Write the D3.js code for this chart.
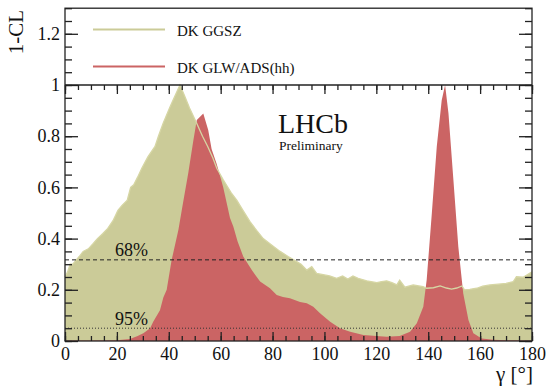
<!DOCTYPE html>
<html>
<head>
<meta charset="utf-8">
<script src="https://cdn.jsdelivr.net/npm/d3@7"></script>
<style>
body { margin: 0; background: #fff; }
</style>
</head>
<body>
<div id="chart"></div>
<script>
// gamma [deg] and 1-CL for each combination
var ggszGamma = [0, 1, 2, 3, 4.6, 5.5, 7, 9, 10.8, 12.5, 14.6, 16.5, 18.5, 20.4, 22, 24, 25.3, 26.5, 28, 29.6,
    32, 34.7, 36, 37.8, 40.5, 42.5, 44.3, 46, 48, 50.8, 53, 55, 57, 58.5, 61, 64, 66.2, 68, 71.3, 74,
    76.4, 79, 82.9, 86, 89.3, 91, 93.2, 95.1, 97, 100, 102, 104.7, 107, 109, 111, 113, 116.3, 120.2, 122, 124,
    126, 127.9, 129, 131, 134.2, 138, 139.4, 142, 144.6, 147, 149, 151, 153, 154, 156, 158.7, 161, 163.8, 167, 170,
    172.8, 174, 176.6, 178, 180];
var ggszCL = [0.25, 0.27, 0.30, 0.30, 0.32, 0.33, 0.35, 0.36, 0.38, 0.40, 0.42, 0.44, 0.47, 0.51, 0.53, 0.55, 0.60, 0.61, 0.64, 0.675,
    0.72, 0.76, 0.80, 0.85, 0.915, 0.96, 1.0, 0.96, 0.91, 0.85, 0.80, 0.76, 0.715, 0.675, 0.63, 0.58, 0.55, 0.52, 0.466, 0.43,
    0.40, 0.38, 0.35, 0.33, 0.31, 0.30, 0.277, 0.29, 0.264, 0.258, 0.254, 0.245, 0.254, 0.242, 0.254, 0.245, 0.235, 0.228, 0.232, 0.235,
    0.228, 0.219, 0.238, 0.21, 0.219, 0.212, 0.206, 0.208, 0.215, 0.207, 0.203, 0.207, 0.215, 0.2, 0.202, 0.206, 0.214, 0.219, 0.222, 0.225,
    0.232, 0.251, 0.249, 0.258, 0.27];

var glwGamma = [0, 10, 20, 25, 28, 30.2, 32.8, 34, 36.6, 37.9, 39.2, 41.1, 43.7, 45.5, 47.5, 49.5, 50.8, 53.3, 55.2, 56.5,
    58.5, 61, 63.6, 64.9, 66.5, 68.7, 72, 75.2, 79, 81.6, 84, 86.7, 90.6, 93.2, 95.7, 98.3, 102.2, 106, 109.9, 115,
    120, 124, 129, 133, 135.6, 138.1, 139.4, 141.4, 143.3, 145.2, 146.5, 147.8, 149.7, 151.6, 153.5, 155.5, 157.4, 160.6, 165, 170, 180];
var glwCL = [0.002, 0.002, 0.003, 0.008, 0.02, 0.03, 0.05, 0.075, 0.12, 0.17, 0.20, 0.316, 0.434, 0.54, 0.655, 0.785, 0.863, 0.889, 0.824, 0.75,
    0.69, 0.60, 0.48, 0.446, 0.39, 0.33, 0.277, 0.232, 0.206, 0.18, 0.172, 0.167, 0.152, 0.147, 0.134, 0.108, 0.075, 0.05, 0.036, 0.023,
    0.02, 0.017, 0.02, 0.036, 0.069, 0.134, 0.238, 0.5, 0.76, 0.94, 1.0, 0.89, 0.63, 0.368, 0.186, 0.082, 0.03, 0.01, 0.005, 0.003, 0.002];

var legendLabels = ["DK GGSZ", "DK GLW/ADS(hh)"];
var clLevels = [0.317, 0.05];
var clLabels = ["68%", "95%"];
var xMajor = [0, 20, 40, 60, 80, 100, 120, 140, 160, 180];
var yMajor = [0, 0.2, 0.4, 0.6, 0.8, 1, 1.2];

var width = 548, height = 387;
var olive = "#cbcb98", red = "#cb6464";

var svg = d3.select("#chart").append("svg")
    .attr("width", width)
    .attr("height", height);

var x = d3.scaleLinear().domain([0, 180]).range([65, 532]);
var y = d3.scaleLinear().domain([0, 1.3]).range([341, 8.2]);

function pts(gs, cs) {
    return gs.map(function(g, i) { return [g, cs[i]]; });
}
var ggsz = pts(ggszGamma, ggszCL), glw = pts(glwGamma, glwCL);

var area = d3.area().x(function(d) { return x(d[0]); }).y0(y(0)).y1(function(d) { return y(d[1]); });
var line = d3.line().x(function(d) { return x(d[0]); }).y(function(d) { return y(d[1]); });

svg.append("path").attr("d", area(ggsz)).attr("fill", olive);
svg.append("path").attr("d", area(glw)).attr("fill", red);
svg.append("path").attr("d", line(ggsz)).attr("fill", "none").attr("stroke", "#d6d6a4").attr("stroke-width", 1.3);

// CL reference lines
svg.append("line").attr("x1", x(0)).attr("x2", x(180)).attr("y1", y(clLevels[0])).attr("y2", y(clLevels[0]))
    .attr("stroke", "#222").attr("stroke-dasharray", "4,3");
svg.append("line").attr("x1", x(0)).attr("x2", x(180)).attr("y1", y(clLevels[1])).attr("y2", y(clLevels[1]))
    .attr("stroke", "#333").attr("stroke-dasharray", "1,2");
clLabels.forEach(function(t, i) {
    svg.append("text").attr("x", 115).attr("y", y(clLevels[i]) - 3.5).attr("font-size", 18).text(t);
});

// axes: major + minor ticks on all four sides (top at 1-CL = 1)
function styleAxis(g) {
    g.select(".domain").remove();
    g.selectAll("line").attr("stroke", "#222").attr("stroke-width", 1.3);
    g.selectAll("text").attr("font-size", 18);
}
var xMinor = d3.range(0, 181, 5), yMinor = d3.range(0, 1.31, 0.05);

svg.append("g").attr("transform", "translate(0," + y(0) + ")")
    .call(d3.axisBottom(x).tickValues(xMinor).tickSize(-5).tickFormat("")).call(styleAxis);
svg.append("g").attr("transform", "translate(0," + y(0) + ")")
    .call(d3.axisBottom(x).tickValues(xMajor).tickSize(-9).tickPadding(6).tickFormat(d3.format("d"))).call(styleAxis);
svg.append("g").attr("transform", "translate(0," + y(1) + ")")
    .call(d3.axisTop(x).tickValues(xMinor).tickSize(-5).tickFormat("")).call(styleAxis);
svg.append("g").attr("transform", "translate(0," + y(1) + ")")
    .call(d3.axisTop(x).tickValues(xMajor).tickSize(-9).tickFormat("")).call(styleAxis);

svg.append("g").attr("transform", "translate(" + x(0) + ",0)")
    .call(d3.axisLeft(y).tickValues(yMinor).tickSize(-7).tickFormat("")).call(styleAxis);
svg.append("g").attr("transform", "translate(" + x(0) + ",0)")
    .call(d3.axisLeft(y).tickValues(yMajor).tickSize(-13).tickPadding(5).tickFormat(function(d) { return d3.format("~g")(+d.toFixed(1)); })).call(styleAxis);
svg.append("g").attr("transform", "translate(" + x(180) + ",0)")
    .call(d3.axisRight(y).tickValues(yMinor).tickSize(-7).tickFormat("")).call(styleAxis);
svg.append("g").attr("transform", "translate(" + x(180) + ",0)")
    .call(d3.axisRight(y).tickValues(yMajor).tickSize(-13).tickFormat("")).call(styleAxis);

// frame and separator at 1-CL = 1
svg.append("rect").attr("x", x(0)).attr("y", y(1.3)).attr("width", x(180) - x(0)).attr("height", y(0) - y(1.3))
    .attr("fill", "none").attr("stroke", "#222").attr("stroke-width", 1.3);
svg.append("line").attr("x1", x(0)).attr("x2", x(180)).attr("y1", y(1)).attr("y2", y(1))
    .attr("stroke", "#222").attr("stroke-width", 1.3);

// legend
[olive, red].forEach(function(c, i) {
    var ly = 29.5 + i * 37;
    svg.append("line").attr("x1", 93).attr("x2", 165).attr("y1", ly).attr("y2", ly)
        .attr("stroke", c).attr("stroke-width", 2);
    svg.append("text").attr("x", 177).attr("y", ly + 6).attr("font-size", 15).text(legendLabels[i]);
});

svg.append("text").attr("x", 278).attr("y", 133).attr("font-size", 28).text("LHCb");
svg.append("text").attr("x", 279).attr("y", 150).attr("font-size", 13.5).text("Preliminary");

svg.append("text").attr("transform", "translate(23,10) rotate(-90)").attr("text-anchor", "end")
    .attr("font-size", 21).text("1-CL");
svg.append("text").attr("x", 533).attr("y", 381).attr("text-anchor", "end").attr("font-size", 21).text("γ [°]");

// all text in a Times-like face (single family name)
svg.selectAll("text").style("font-family", "'Liberation Serif'").attr("fill", "#111");
</script>
</body>
</html>
